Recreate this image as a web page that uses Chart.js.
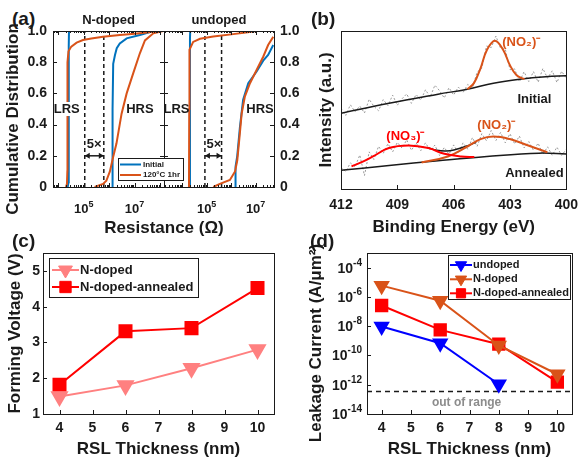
<!DOCTYPE html>
<html lang="en">
<head>
<meta charset="UTF-8">
<title>RSL figure</title>
<script src="https://cdn.jsdelivr.net/npm/chart.js"></script>
<style>
  body { margin: 0; background: #fff; }
  #fig { position: relative; width: 586px; height: 464px; overflow: hidden;
         font-family: 'Liberation Sans', Arial, sans-serif; font-weight: bold; color: #1a1a1a; }
  #fig canvas { position: absolute; }
  .lbl { position: absolute; white-space: nowrap; }
  .letter { font-size: 19px; line-height: 19px; }
</style>
</head>
<body>
<div id="fig">
  <canvas id="aRight" width="160" height="240" style="left:150px;top:0;z-index:1"></canvas>
  <canvas id="aLeft" width="200" height="240" style="left:0;top:0;z-index:2"></canvas>
  <canvas id="chartB" width="286" height="240" style="left:300px;top:0"></canvas>
  <canvas id="chartC" width="290" height="224" style="left:0;top:240px"></canvas>
  <canvas id="chartD" width="286" height="224" style="left:300px;top:240px"></canvas>
  <div class="lbl letter" style="left:12px;top:9px">(a)</div>
  <div class="lbl letter" style="left:311px;top:9px">(b)</div>
  <div class="lbl letter" style="left:12px;top:231px">(c)</div>
  <div class="lbl letter" style="left:310px;top:231px">(d)</div>
  <div class="lbl" style="left:64px;top:218px;width:200px;text-align:center;font-size:17px;line-height:20px">Resistance (Ω)</div>
</div>

<script>
const FONT = "'Liberation Sans', Arial, sans-serif";
const INK = '#1a1a1a';
const BLUE = '#0072bd', ORANGE = '#d95319', RED = '#ff0000', PINK = '#ff8080', GRAY = '#9a9a9a';

// ---------- (a) cumulative distribution, x values are log10(R / ohm)
const nInitLrsLog = [4.37, 4.40, 4.41, 4.41, 4.42];
const nInitLrsP   = [0, 0.03, 0.3, 0.9, 1];
const nAnnLrsLog  = [4.30, 4.34, 4.355, 4.36, 4.40, 4.51, 4.72, 4.97, 5.3, 5.76, 6.42, 7.0, 7.5, 7.9];
const nAnnLrsP    = [0, 0.02, 0.1, 0.8, 0.87, 0.9, 0.925, 0.942, 0.952, 0.963, 0.974, 0.982, 0.99, 1];
const nInitHrsLog = [6.12, 6.13, 6.14, 6.16, 6.23, 6.3, 6.42, 6.69, 7.21, 7.74];
const nInitHrsP   = [0, 0.1, 0.5, 0.79, 0.846, 0.89, 0.92, 0.953, 0.974, 1];
const nAnnHrsLog  = [5.43, 5.76, 5.89, 6.03, 6.16, 6.29, 6.49, 6.69, 6.95, 7.21, 7.41, 7.74, 8.13];
const nAnnHrsP    = [0, 0.02, 0.04, 0.1, 0.194, 0.28, 0.47, 0.6, 0.73, 0.857, 0.94, 0.985, 1];

const uInitLrsLog = [4.31, 4.32, 4.32, 4.33];
const uInitLrsP   = [0, 0.5, 0.95, 1];
const uAnnLrsLog  = [4.28, 4.29, 4.30, 4.45, 4.73, 5.27, 6.09, 6.6, 7.04];
const uAnnLrsP    = [0, 0.5, 0.88, 0.93, 0.95, 0.965, 0.98, 0.99, 1];
const uInitHrsLog = [6.18, 6.18, 6.25, 6.36, 6.49, 6.70, 7.04, 7.31, 7.51, 7.72];
const uInitHrsP   = [0, 0.13, 0.2, 0.386, 0.56, 0.665, 0.74, 0.81, 0.846, 0.91];
const uAnnHrsLog  = [5.27, 5.54, 5.95, 6.16, 6.25, 6.33, 6.43, 6.56, 6.77, 7.04, 7.31, 7.51, 7.72];
const uAnnHrsP    = [0, 0.02, 0.045, 0.1, 0.17, 0.3, 0.47, 0.58, 0.665, 0.75, 0.835, 0.91, 0.963];

const aTickExp = [5, 7];
const nDashLog = [5.04, 5.79];
const uDashLog = [4.93, 5.61];
const arrowP = 0.2;

// ---------- (b) XPS N 1s spectra
const bTicks = [412, 409, 406, 403, 400];
const rawEv = [412, 411.75, 411.5, 411.25, 411, 410.75, 410.5, 410.25, 410, 409.75, 409.5, 409.25, 409,
  408.75, 408.5, 408.25, 408, 407.75, 407.5, 407.25, 407, 406.75, 406.5, 406.25, 406, 405.75, 405.5,
  405.25, 405, 404.75, 404.5, 404.25, 404, 403.75, 403.5, 403.25, 403, 402.75, 402.5, 402.25, 402,
  401.75, 401.5, 401.25, 401, 400.75, 400.5, 400.25, 400];
const rawInitial = [5.10, 4.66, 5.33, 4.89, 5.25, 4.81, 5.68, 5.24, 4.95, 5.66, 5.28, 5.94, 5.30, 5.71,
  6.02, 5.42, 5.98, 5.63, 6.28, 5.82, 6.57, 6.22, 5.76, 6.41, 5.95, 6.45, 6.10, 6.62, 6.40, 7.40, 7.65,
  9.05, 8.95, 9.68, 8.90, 8.85, 7.55, 7.60, 6.78, 7.42, 6.80, 7.43, 6.76, 7.63, 7.01, 7.48, 6.74, 7.45, 7.01];
const rawAnnealed = [1.38, 1.10, 1.65, 1.40, 2.15, 0.85, 2.35, 1.87, 2.70, 2.25, 2.87, 2.35, 2.95, 2.59,
  3.11, 2.45, 2.92, 2.43, 2.92, 2.45, 2.78, 2.12, 2.63, 2.20, 2.79, 2.27, 2.92, 2.52, 3.25, 2.70, 3.50,
  3.05, 3.70, 3.07, 3.58, 2.92, 3.50, 2.85, 3.35, 2.60, 3.00, 2.45, 2.90, 2.18, 2.67, 2.13, 2.65, 2.13, 2.51];
const initBgEv = [412, 409.44, 406.83, 405.27, 403.88, 402.49, 401.1, 400];
const initBg   = [4.80, 5.43, 6.00, 6.32, 6.70, 6.95, 7.11, 7.16];
const initNo2Ev = [405.27, 404.92, 404.57, 404.23, 403.8, 403.36, 403.01, 402.66, 402.23];
const initNo2   = [6.32, 6.70, 7.64, 8.80, 9.39, 8.80, 7.85, 7.22, 6.95];
const annBgEv = [412, 409.44, 406.83, 404.23, 401.45, 400];
const annBg   = [1.18, 1.49, 1.79, 2.06, 2.27, 2.21];
const annNo3Ev = [411.44, 410.9, 410.3, 409.45, 408.4, 407.35, 406.5, 405.6, 404.9];
const annNo3   = [1.43, 1.70, 2.06, 2.59, 2.75, 2.59, 2.23, 2.06, 2.02];
const annNo2Ev = [407.71, 406.31, 405.27, 404.57, 403.88, 403.01, 402.14, 401.01];
const annNo2   = [1.68, 2.06, 2.69, 3.16, 3.32, 3.16, 2.80, 2.33];
const annSumEv = [407.4, 406.9, 406.4, 405.9, 405.3, 404.8];
const annSum   = [2.63, 2.45, 2.40, 2.50, 2.72, 2.97];

// ---------- (c) forming voltage
const thickness = [4, 6, 8, 10];
const thickTicks = [4, 5, 6, 7, 8, 9, 10];
const vfNdoped   = [1.49, 1.80, 2.28, 2.80];
const vfAnnealed = [1.82, 3.31, 3.40, 4.52];
const vfTicks = [1, 2, 3, 4, 5];

// ---------- (d) leakage current (A/um^2)
const leakUndoped  = [9.5e-9, 6.9e-10, 1.07e-12];
const leakNdoped   = [5.9e-6, 5.5e-7, 4.8e-10, 5.2e-12];
const leakAnnealed = [2.6e-7, 5.6e-9, 5.9e-10, 1.5e-12];
const leakTickExp = [-14, -12, -10, -8, -6, -4];
const rangeLimit = 3.4e-13;

Chart.defaults.font.family = FONT;
Chart.defaults.font.weight = 'bold';
Chart.defaults.color = INK;

const pts = (xs, ys) => xs.map((x, i) => ({ x: x, y: ys[i] }));
const pow10 = xs => xs.map(v => Math.pow(10, v));
const bold = size => ({ family: FONT, size: size, weight: 'bold' });

function curve(data, color, width, extra) {
  return Object.assign({ data: data, borderColor: color, backgroundColor: color, borderWidth: width,
    showLine: true, pointRadius: 0, tension: 0 }, extra || {});
}

// box frame and inward ticks
function frame(cfg) {
  return {
    id: 'frame',
    afterDraw(chart) {
      const { ctx, chartArea: a, scales } = chart;
      ctx.save();
      ctx.strokeStyle = INK;
      ctx.lineWidth = 1;
      const seg = (x1, y1, x2, y2) => { ctx.beginPath(); ctx.moveTo(x1, y1); ctx.lineTo(x2, y2); ctx.stroke(); };
      const xTick = (v, len) => {
        const p = Math.round(scales.x.getPixelForValue(v)) + 0.5;
        seg(p, a.bottom, p, a.bottom - len);
        if (cfg.x === 'both') seg(p, a.top, p, a.top + len);
      };
      if (cfg.x) scales.x.ticks.forEach(t => xTick(t.value, 4));
      if (cfg.minor) {
        const lo = Math.floor(Math.log10(scales.x.min)), hi = Math.ceil(Math.log10(scales.x.max));
        for (let e = lo; e <= hi; e++) {
          for (let m = 1; m <= 9; m++) {
            const v = m * Math.pow(10, e);
            if (v > scales.x.min && v < scales.x.max) xTick(v, m === 1 ? 4 : 2);
          }
        }
      }
      if (cfg.y) {
        scales.y.ticks.forEach(t => {
          const p = Math.round(scales.y.getPixelForValue(t.value)) + 0.5;
          seg(a.left, p, a.left + 4, p);
          if (cfg.y === 'both') seg(a.right, p, a.right - 4, p);
        });
      }
      ctx.strokeRect(Math.round(a.left) + 0.5, Math.round(a.top) + 0.5, Math.round(a.width), Math.round(a.height));
      if (cfg.side) {
        // axis title set at its spot on the canvas
        ctx.save();
        ctx.translate(cfg.side.x, cfg.side.y);
        ctx.rotate(-Math.PI / 2);
        ctx.fillStyle = INK;
        ctx.font = 'bold 17px ' + FONT;
        ctx.textAlign = 'center';
        ctx.textBaseline = 'middle';
        ctx.fillText(cfg.side.text, 0, 0);
        ctx.restore();
      }
      ctx.restore();
    }
  };
}

// texts and arrows placed in data coordinates
function notes(list, arrows) {
  return {
    id: 'notes',
    afterDatasetsDraw(chart) {
      const { ctx, scales: { x, y } } = chart;
      ctx.save();
      list.forEach(n => {
        ctx.font = 'bold ' + (n.size || 13) + 'px ' + FONT;
        ctx.textAlign = 'center';
        ctx.textBaseline = 'middle';
        const px = x.getPixelForValue(n.x), py = y.getPixelForValue(n.y);
        if (n.bg) {
          const w = ctx.measureText(n.text).width;
          ctx.fillStyle = '#fff';
          ctx.fillRect(px - w / 2 - 1, py - 7, w + 2, 14);
        }
        ctx.fillStyle = n.color || INK;
        ctx.fillText(n.text, px, py);
      });
      (arrows || []).forEach(r => {
        const x1 = x.getPixelForValue(r.x1), x2 = x.getPixelForValue(r.x2), py = y.getPixelForValue(r.y);
        ctx.strokeStyle = INK; ctx.fillStyle = INK; ctx.lineWidth = 1.5;
        ctx.beginPath(); ctx.moveTo(x1, py); ctx.lineTo(x2, py); ctx.stroke();
        [[x1, 1], [x2, -1]].forEach(([px, d]) => {
          ctx.beginPath(); ctx.moveTo(px, py); ctx.lineTo(px + 5 * d, py - 3); ctx.lineTo(px + 5 * d, py + 3);
          ctx.closePath(); ctx.fill();
        });
      });
      ctx.restore();
    }
  };
}

// "10" with raised exponent as tick labels
function powTicks(axis, cfg) {
  return {
    id: 'powTicks',
    afterDraw(chart) {
      const s = chart.scales[axis], a = chart.chartArea, ctx = chart.ctx;
      ctx.save();
      ctx.fillStyle = INK;
      ctx.textAlign = 'left';
      ctx.textBaseline = 'alphabetic';
      s.ticks.forEach(t => {
        const e = String(Math.round(Math.log10(t.value)));
        ctx.font = 'bold ' + cfg.base + 'px ' + FONT;
        const wb = ctx.measureText('10').width;
        ctx.font = 'bold ' + cfg.exp + 'px ' + FONT;
        const we = ctx.measureText(e).width;
        const p = s.getPixelForValue(t.value);
        let x0, yb;
        if (axis === 'x') { x0 = p - (wb + we) / 2; yb = cfg.baseline; }
        else { x0 = a.left - cfg.gap - wb - we; yb = p + cfg.base * 0.36; }
        ctx.font = 'bold ' + cfg.base + 'px ' + FONT;
        ctx.fillText('10', x0, yb);
        ctx.font = 'bold ' + cfg.exp + 'px ' + FONT;
        ctx.fillText(e, x0 + wb, yb - cfg.rise);
      });
      ctx.restore();
    }
  };
}

// boxed legend at a fixed spot of the canvas
function boxLegend(cfg) {
  return {
    id: 'boxLegend',
    afterDraw(chart) {
      const ctx = chart.ctx;
      const [x0, y0, x1, y1] = cfg.box;
      ctx.save();
      ctx.fillStyle = '#fff';
      ctx.fillRect(x0, y0, x1 - x0, y1 - y0);
      ctx.strokeStyle = INK; ctx.lineWidth = 1;
      ctx.strokeRect(x0 + 0.5, y0 + 0.5, x1 - x0, y1 - y0);
      cfg.rows.forEach(r => {
        const ds = chart.data.datasets[r.ds];
        ctx.strokeStyle = ds.borderColor;
        ctx.lineWidth = ds.borderWidth;
        ctx.beginPath(); ctx.moveTo(cfg.line[0], r.y); ctx.lineTo(cfg.line[1], r.y); ctx.stroke();
        if (ds.pointRadius) {
          ctx.fillStyle = ds.backgroundColor;
          ctx.lineWidth = 1;
          Chart.helpers.drawPoint(ctx, { pointStyle: ds.pointStyle, rotation: ds.pointRotation || 0,
            radius: cfg.radius, borderWidth: 1 }, (cfg.line[0] + cfg.line[1]) / 2, r.y);
        }
        ctx.fillStyle = INK;
        ctx.font = 'bold ' + cfg.size + 'px ' + FONT;
        ctx.textAlign = 'left';
        ctx.textBaseline = 'middle';
        ctx.fillText(ds.label, cfg.textX, r.y);
      });
      ctx.restore();
    }
  };
}

const noGrid = { display: false, drawTicks: false };
const noBorder = { display: false };

function cdfPanel(id, title, sets, dashLog, range, yPos, pad, texts) {
  return new Chart(document.getElementById(id), {
    type: 'scatter',
    data: {
      datasets: [
        curve(pts(pow10(sets[1][0]), sets[1][1]), ORANGE, 2, { label: '120°C 1hr' }),
        curve(pts(pow10(sets[3][0]), sets[3][1]), ORANGE, 2, { label: '120°C 1hr' }),
        curve(pts(pow10(sets[0][0]), sets[0][1]), BLUE, 2, { label: 'Initial' }),
        curve(pts(pow10(sets[2][0]), sets[2][1]), BLUE, 2, { label: 'Initial' }),
        curve(pts(pow10([dashLog[0], dashLog[0]]), [0, 1]), INK, 1.5, { borderDash: [4, 3] }),
        curve(pts(pow10([dashLog[1], dashLog[1]]), [0, 1]), INK, 1.5, { borderDash: [4, 3] })
      ]
    },
    options: {
      responsive: false,
      animation: false,
      layout: { padding: pad },
      plugins: {
        legend: { display: false },
        tooltip: { enabled: false },
        title: { display: true, text: title, fullSize: false, color: INK, font: bold(13),
                 padding: { top: 13, bottom: 2.4 } }
      },
      scales: {
        x: {
          type: 'logarithmic', min: Math.pow(10, range[0]), max: Math.pow(10, range[1]),
          afterBuildTicks: s => { s.ticks = aTickExp.map(e => ({ value: Math.pow(10, e) })); },
          afterFit: s => { s.height = 53; },
          ticks: { display: false }, grid: noGrid, border: noBorder
        },
        y: {
          position: yPos, min: 0, max: 1,
          afterFit: s => { s.width = yPos === 'left' ? 53 : 36; },
          ticks: { stepSize: 0.2, padding: 6, color: INK, font: bold(14) },
          grid: noGrid, border: noBorder
        }
      }
    },
    plugins: [
      frame({ x: 'both', y: 'both', minor: true,
              side: yPos === 'left' ? { text: 'Cumulative Distribution', x: 13, y: 119 } : null }),
      notes(texts, [{ x1: Math.pow(10, dashLog[0]), x2: Math.pow(10, dashLog[1]), y: arrowP }]),
      powTicks('x', { base: 13, exp: 9, baseline: 213, rise: 6 })
    ].concat(id === 'aLeft' ? [boxLegend({ box: [118, 158, 183, 180], line: [120, 141], textX: 143,
      size: 8, radius: 0, rows: [{ ds: 2, y: 164.5 }, { ds: 0, y: 175 }] })] : [])
  });
}

cdfPanel('aLeft', 'N-doped',
  [[nInitLrsLog, nInitLrsP], [nAnnLrsLog, nAnnLrsP], [nInitHrsLog, nInitHrsP], [nAnnHrsLog, nAnnHrsP]],
  nDashLog, [3.79, 8.16], 'left', { left: 0, right: 36, top: 0, bottom: 0 },
  [{ text: 'LRS', x: Math.pow(10, 4.33), y: 0.5, bg: true }, { text: 'HRS', x: Math.pow(10, 7.21), y: 0.5 },
   { text: '5×', x: Math.pow(10, 5.41), y: 0.27 }]);

cdfPanel('aRight', 'undoped',
  [[uInitLrsLog, uInitLrsP], [uAnnLrsLog, uAnnLrsP], [uInitHrsLog, uInitHrsP], [uAnnHrsLog, uAnnHrsP]],
  uDashLog, [3.26, 7.75], 'right', { left: 14, right: 0, top: 0, bottom: 0 },
  [{ text: 'LRS', x: Math.pow(10, 3.77), y: 0.5 }, { text: 'HRS', x: Math.pow(10, 7.18), y: 0.5 },
   { text: '5×', x: Math.pow(10, 5.30), y: 0.27 }]);

// ---------- (b)
new Chart(document.getElementById('chartB'), {
  type: 'scatter',
  data: {
    datasets: [
      curve(pts(initNo2Ev, initNo2), ORANGE, 2, { tension: 0.4 }),
      curve(pts(annNo3Ev, annNo3), RED, 2, { tension: 0.4 }),
      curve(pts(annNo2Ev, annNo2), ORANGE, 2, { tension: 0.4 }),
      curve(pts(annSumEv, annSum), INK, 1.5, { tension: 0.4 }),
      curve(pts(initBgEv, initBg), INK, 1.5, { tension: 0.4 }),
      curve(pts(annBgEv, annBg), INK, 1.5, { tension: 0.4 }),
      curve(pts(rawEv, rawInitial), GRAY, 1, { borderDash: [2, 2] }),
      curve(pts(rawEv, rawAnnealed), GRAY, 1, { borderDash: [2, 2] })
    ]
  },
  options: {
    responsive: false,
    animation: false,
    layout: { padding: { left: 0, right: 14, top: 31, bottom: 0 } },
    plugins: { legend: { display: false }, tooltip: { enabled: false } },
    scales: {
      x: {
        type: 'linear', reverse: true, min: 400, max: 412,
        afterBuildTicks: s => { s.ticks = bTicks.map(v => ({ value: v })); },
        afterFit: s => { s.height = 51; },
        ticks: { padding: 8, color: INK, font: bold(14), autoSkip: false, maxRotation: 0 },
        grid: noGrid, border: noBorder,
        title: { display: true, text: 'Binding Energy (eV)', color: INK, font: bold(17), padding: { top: 0, bottom: 2 } }
      },
      y: {
        min: 0, max: 10,
        afterFit: s => { s.width = 41; },
        ticks: { display: false }, grid: noGrid, border: noBorder,
        title: { display: true, text: 'Intensity (a.u.)', color: INK, font: bold(17), padding: { top: 16, bottom: 0 } }
      }
    }
  },
  plugins: [
    frame({ x: 'bottom' }),
    notes([
      { text: '(NO₂)⁻', x: 402.4, y: 9.3, color: ORANGE },
      { text: 'Initial', x: 401.7, y: 5.67 },
      { text: '(NO₃)⁻', x: 408.57, y: 3.32, color: RED },
      { text: '(NO₂)⁻', x: 403.73, y: 4.02, color: ORANGE },
      { text: 'Annealed', x: 401.7, y: 0.97 }
    ])
  ]
});

// ---------- (c)
new Chart(document.getElementById('chartC'), {
  type: 'scatter',
  data: {
    datasets: [
      curve(pts(thickness, vfNdoped), PINK, 2, { label: 'N-doped', pointStyle: 'triangle', pointRotation: 180, pointRadius: 8.5 }),
      curve(pts(thickness, vfAnnealed), RED, 2, { label: 'N-doped-annealed', pointStyle: 'rect', pointRadius: 8.5 })
    ]
  },
  options: {
    responsive: false,
    animation: false,
    layout: { padding: { left: 0, right: 16, top: 13, bottom: 0 } },
    plugins: { legend: { display: false }, tooltip: { enabled: false } },
    scales: {
      x: {
        type: 'linear', min: 3.5, max: 10.5,
        afterBuildTicks: s => { s.ticks = thickTicks.map(v => ({ value: v })); },
        afterFit: s => { s.height = 50; },
        ticks: { padding: 6, color: INK, font: bold(14), autoSkip: false, maxRotation: 0 },
        grid: noGrid, border: noBorder,
        title: { display: true, text: 'RSL Thickness (nm)', color: INK, font: bold(17), padding: { top: 0, bottom: 4 } }
      },
      y: {
        min: 1, max: 5.5,
        afterBuildTicks: s => { s.ticks = vfTicks.map(v => ({ value: v })); },
        afterFit: s => { s.width = 43; },
        ticks: { padding: 3, color: INK, font: bold(14) },
        grid: noGrid, border: noBorder,
        title: { display: true, text: 'Forming Voltage (V)', color: INK, font: bold(17), padding: { top: 5, bottom: 0 } }
      }
    }
  },
  plugins: [
    frame({ x: 'bottom', y: 'left' }),
    boxLegend({ box: [49, 18, 198, 57], line: [52, 79], textX: 80, size: 13, radius: 8,
      rows: [{ ds: 0, y: 30 }, { ds: 1, y: 47 }] })
  ]
});

// ---------- (d)
new Chart(document.getElementById('chartD'), {
  type: 'scatter',
  data: {
    datasets: [
      curve(pts(thickness.slice(0, 3), leakUndoped), '#0000ff', 2, { label: 'undoped', pointStyle: 'triangle', pointRotation: 180, pointRadius: 7.5 }),
      curve(pts(thickness, leakNdoped), ORANGE, 2, { label: 'N-doped', pointStyle: 'triangle', pointRotation: 180, pointRadius: 7.5 }),
      curve(pts(thickness, leakAnnealed), RED, 2, { label: 'N-doped-annealed', pointStyle: 'rect', pointRadius: 8 }),
      curve(pts([3.5, 10.5], [rangeLimit, rangeLimit]), INK, 1.5, { borderDash: [5, 4] })
    ]
  },
  options: {
    responsive: false,
    animation: false,
    layout: { padding: { left: 0, right: 14, top: 13, bottom: 0 } },
    plugins: { legend: { display: false }, tooltip: { enabled: false } },
    scales: {
      x: {
        type: 'linear', min: 3.5, max: 10.5,
        afterBuildTicks: s => { s.ticks = thickTicks.map(v => ({ value: v })); },
        afterFit: s => { s.height = 50; },
        ticks: { padding: 6, color: INK, font: bold(14), autoSkip: false, maxRotation: 0 },
        grid: noGrid, border: noBorder,
        title: { display: true, text: 'RSL Thickness (nm)', color: INK, font: bold(17), padding: { top: 0, bottom: 4 } }
      },
      y: {
        type: 'logarithmic', min: 1e-14, max: 1e-3,
        afterBuildTicks: s => { s.ticks = leakTickExp.map(e => ({ value: Math.pow(10, e) })); },
        afterFit: s => { s.width = 67; },
        ticks: { display: false }, grid: noGrid, border: noBorder
      }
    }
  },
  plugins: [
    frame({ x: 'bottom', y: 'left', side: { text: 'Leakage Current (A/μm²)', x: 16, y: 103 } }),
    notes([{ text: 'out of range', x: 6.9, y: 5.6e-14, color: '#8c8c8c', size: 12 }]),
    powTicks('y', { base: 14, exp: 10, gap: 5, rise: 7 }),
    boxLegend({ box: [148, 15, 270, 59], line: [150, 172], textX: 173, size: 11, radius: 6.5,
      rows: [{ ds: 0, y: 25 }, { ds: 1, y: 39.3 }, { ds: 2, y: 53.3 }] })
  ]
});
</script>
</body>
</html>
